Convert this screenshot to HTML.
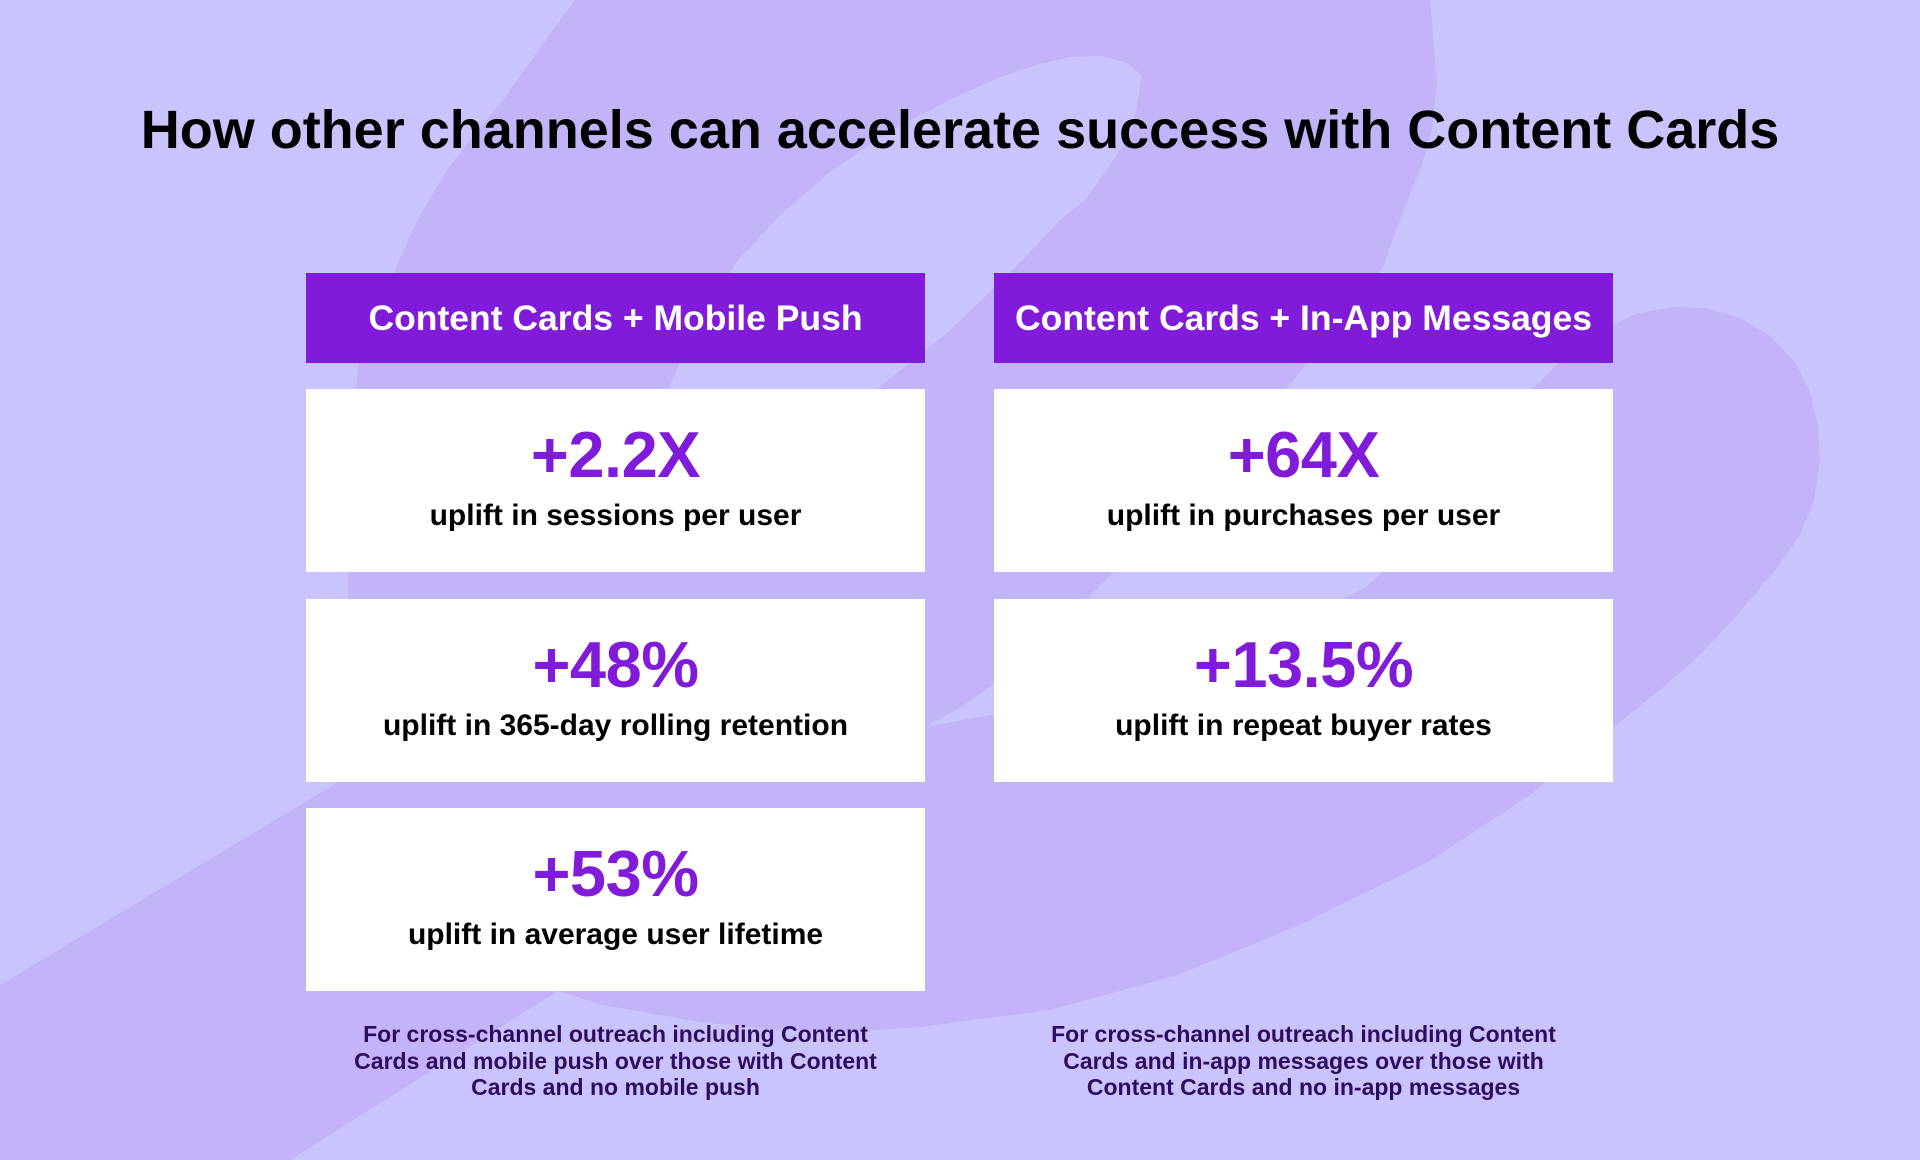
<!DOCTYPE html>
<html>
<head>
<meta charset="utf-8">
<style>
  html, body { margin:0; padding:0; }
  body { width:1920px; height:1160px; overflow:hidden; position:relative; background:#c9c4fe; font-family:"Liberation Sans", Arial, sans-serif; }
  svg.bg { position:absolute; left:0; top:0; }
  .title { position:absolute; left:0; width:1920px; top:103px; text-align:center; font-size:54px; line-height:54px; font-weight:bold; color:#000; white-space:nowrap; }
  .hdr { position:absolute; top:273px; height:90px; width:619px; background:#801cd9; color:#fff; font-weight:bold; font-size:35.5px; line-height:90px; text-align:center; white-space:nowrap; }
  .card { position:absolute; width:619px; height:183px; background:#fff; }
  .num { position:absolute; left:0; width:100%; top:33px; text-align:center; font-size:65px; line-height:65px; font-weight:bold; color:#801cd9; white-space:nowrap; letter-spacing:-0.5px; }
  .sub { position:absolute; left:0; width:100%; top:112px; text-align:center; font-size:30px; line-height:30px; font-weight:bold; color:#000; white-space:nowrap; }
  .foot { position:absolute; top:1021px; width:619px; text-align:center; font-size:23px; line-height:26.7px; font-weight:bold; color:#2e0b5e; white-space:nowrap; }
</style>
</head>
<body>
<svg class="bg" width="1920" height="1160" viewBox="0 0 1920 1160">
  <path fill="#c3b3f8" d="M575,0 L1430,0 L1437,83 L1432,130 L1421,167 L1400,220 L1383,267 L1345,320 L1296,377 L1250,430 L1200,482 L1150,535 L1099,587 L1050,635 L1000,680 L960,708 L925,727 L990,715 L1100,692 L1200,662 L1290,628 L1366,587 L1420,540 L1470,470 L1505,420 L1532,390 L1565,356 L1600,332 L1635,314 L1672,307 L1705,308 L1740,318 L1770,336 L1795,362 L1810,392 L1818,425 L1820,460 L1814,500 L1800,535 L1775,570 L1740,612 L1700,655 L1660,690 L1621,721 L1530,795 L1430,861 L1300,925 L1175,976 L1050,1010 L920,1027 L857,1031 L780,1030 L700,1022 L603,1005 L558,991 L290,1160 L0,1160 L0,985 L335,784 L340,700 L348,594 L349,480 L358,367 L375,320 L396,267 L420,215 L449,167 L503,100 L540,48 Z"/>
  <path fill="#c9c4fe" d="M1142,75 L1125,62 L1100,56 L1070,57 L1040,64 L1000,77 L950,100 L886,133 L830,172 L778,217 L740,258 L710,300 L685,350 L664,400 L652,460 L650,560 L700,520 L780,470 L863,400 L947,333 L1016,267 L1060,220 L1085,200 L1110,165 L1131,133 L1138,100 Z"/>
</svg>

<div class="title">How other channels can accelerate success with Content Cards</div>

<div class="hdr" style="left:306px;">Content Cards + Mobile Push</div>
<div class="hdr" style="left:994px;">Content Cards + In-App Messages</div>

<div class="card" style="left:306px; top:389px;">
  <div class="num">+2.2X</div>
  <div class="sub">uplift in sessions per user</div>
</div>
<div class="card" style="left:306px; top:599px;">
  <div class="num">+48%</div>
  <div class="sub">uplift in 365-day rolling retention</div>
</div>
<div class="card" style="left:306px; top:808px;">
  <div class="num">+53%</div>
  <div class="sub">uplift in average user lifetime</div>
</div>

<div class="card" style="left:994px; top:389px;">
  <div class="num">+64X</div>
  <div class="sub">uplift in purchases per user</div>
</div>
<div class="card" style="left:994px; top:599px;">
  <div class="num">+13.5%</div>
  <div class="sub">uplift in repeat buyer rates</div>
</div>

<div class="foot" style="left:306px;">For cross-channel outreach including Content<br>Cards and mobile push over those with Content<br>Cards and no mobile push</div>
<div class="foot" style="left:994px;">For cross-channel outreach including Content<br>Cards and in-app messages over those with<br>Content Cards and no in-app messages</div>
</body>
</html>
